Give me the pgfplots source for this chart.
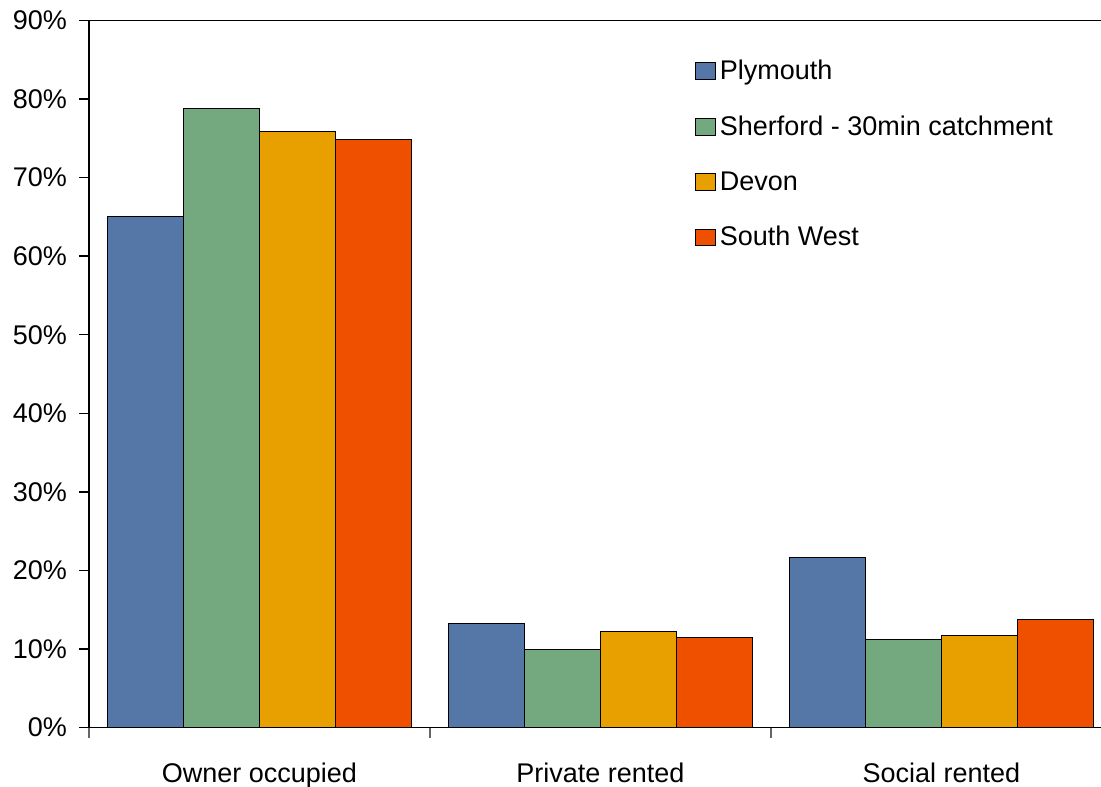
\documentclass[border=0pt]{standalone}
\usepackage{pgfplots}
\pgfplotsset{compat=1.18}
\usepackage{fontspec}
\setmainfont{Liberation Sans}

\definecolor{cPly}{RGB}{84,119,168}
\definecolor{cSher}{RGB}{116,168,126}
\definecolor{cDev}{RGB}{232,160,0}
\definecolor{cSW}{RGB}{238,80,0}

\begin{document}
\begin{tikzpicture}
\begin{axis}[
  at={(0pt,0pt)}, anchor=south west,
  scale only axis,
  width=511.5pt, height=353.5pt,
  xmin=-0.5, xmax=2.5,
  ymin=0, ymax=90,
  ybar=0pt, bar width=38pt,
  axis line style={black, line width=0.7pt},
  tick align=outside,
  xtick pos=lower, ytick pos=left,
  xtick={0,1,2},
  xticklabels={Owner occupied, Private rented, Social rented},
  major x tick style={draw=none},
  minor xtick={-0.5,0.5,1.5},
  minor tick length=5pt,
  minor x tick style={black!60, line width=0.7pt},
  ytick={0,10,...,90},
  yticklabel={\pgfmathprintnumber{\tick}\%},
  major tick length=5pt,
  major y tick style={black, line width=0.7pt},
  /pgf/number format/assume math mode=true,
  tick label style={font=\fontsize{13.5}{15}\selectfont},
  xticklabel style={yshift=-9pt},
  yticklabel style={xshift=-2.5pt},
  legend style={
    at={(0.586,0.956)}, anchor=north west, draw=none, fill=none,
    font=\fontsize{13.5}{15}\selectfont,
    row sep=12.6pt,
    cells={anchor=west},
  },
  legend image code/.code={%
    \draw[#1, draw=black, line width=0.5pt] (0pt,-4.2pt) rectangle (8.4pt,4.2pt);
    \useasboundingbox (0pt,-4.2pt) rectangle (10pt,4.2pt);},
  every axis plot/.append style={draw=black, line width=0.5pt},
]
\addplot[fill=cPly] coordinates {(0,65.1) (1,13.3) (2,21.6)};
\addplot[fill=cSher] coordinates {(0,78.8) (1,9.9) (2,11.2)};
\addplot[fill=cDev] coordinates {(0,75.9) (1,12.2) (2,11.7)};
\addplot[fill=cSW] coordinates {(0,74.8) (1,11.4) (2,13.8)};
\legend{Plymouth, Sherford - 30min catchment, Devon, South West}
\end{axis}
\pgfresetboundingbox
\useasboundingbox (-44.5pt,-29.25pt) rectangle (506pt,363.75pt);
\end{tikzpicture}
\end{document}
